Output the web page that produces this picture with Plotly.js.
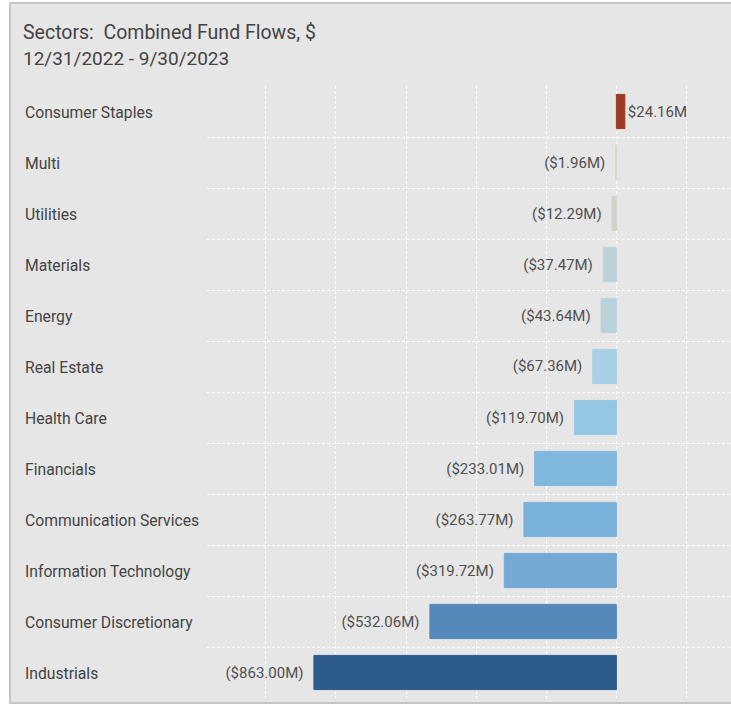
<!DOCTYPE html>
<html>
<head>
<meta charset="utf-8">
<script src="https://cdn.plot.ly/plotly-3.0.1.min.js"></script>
<style>
  html, body { margin: 0; padding: 0; background: #ffffff; overflow: hidden; }
  #frame { position: absolute; left: 9px; top: 2px; width: 720px; height: 698px;
           border-left: 2px solid #c6c6c6; border-top: 2px solid #c6c6c6; border-bottom: 2px solid #c6c6c6;
           background: #e6e6e6; }
  #chart { width: 720px; height: 698px; }
</style>
</head>
<body>
<div id="frame"><div id="chart"></div></div>
<script>
const categories = ["Consumer Staples", "Multi", "Utilities", "Materials", "Energy", "Real Estate",
  "Health Care", "Financials", "Communication Services", "Information Technology",
  "Consumer Discretionary", "Industrials"];
const flows = [24.16, -1.96, -12.29, -37.47, -43.64, -67.36, -119.70, -233.01, -263.77, -319.72, -532.06, -863.00];
const barColors = ["#9e3b24", "#d9d5c5", "#cfd3cc", "#bdd2d8", "#b9d3dd", "#a8cfe3", "#95c7e3",
  "#80b7dd", "#7ab1da", "#74a9d3", "#5489b9", "#2c5b8a"];
const gridVals = [-1000, -800, -600, -400, -200, 0, 200];
const titleText = "Sectors:  Combined Fund Flows, $";
const subtitleText = "12/31/2022 - 9/30/2023";

const fmt = v => v < 0 ? "($" + Math.abs(v).toFixed(2) + "M)\u00a0\u00a0" : "$" + v.toFixed(2) + "M";
const FONT = "Roboto, 'Open Sans', sans-serif";

const trace = {
  type: "bar", orientation: "h",
  x: flows, y: categories,
  marker: { color: barColors, line: { width: 1, color: barColors } },
  text: flows.map(fmt), textposition: "outside", cliponaxis: false,
  textfont: { family: FONT, size: 15, color: "#505050" },
  hoverinfo: "none"
};

const plotW = 524, plotH = 612;
const px2paperX = px => (px - 207) / plotW;
const px2paperY = py => (698 - py) / plotH;

const annotations = [
  { text: titleText, xref: "paper", yref: "paper", x: px2paperX(21), y: px2paperY(32),
    xanchor: "left", yanchor: "middle", showarrow: false, font: { family: FONT, size: 19.5, color: "#444444" } },
  { text: subtitleText, xref: "paper", yref: "paper", x: px2paperX(21), y: px2paperY(59),
    xanchor: "left", yanchor: "middle", showarrow: false, font: { family: FONT, size: 19, color: "#444444" } }
].concat(categories.map(c => ({
  text: c, xref: "paper", yref: "y", x: px2paperX(23), y: c, yshift: -1,
  xanchor: "left", yanchor: "middle", showarrow: false,
  font: { family: FONT, size: 15.7, color: "#444444" }
})));

const layout = {
  width: 720, height: 698,
  margin: { l: 196, r: 0, t: 82, b: 4 },
  paper_bgcolor: "rgba(0,0,0,0)", plot_bgcolor: "rgba(0,0,0,0)",
  showlegend: false,
  bargap: 0.33,
  xaxis: {
    range: [-1168, 327], tickvals: gridVals, showticklabels: false,
    showgrid: true, gridcolor: "#ffffff", gridwidth: 1, griddash: "3px,2px",
    zeroline: false, showline: false, fixedrange: true
  },
  yaxis: {
    type: "category", autorange: "reversed", tickson: "boundaries",
    showticklabels: false, ticks: "",
    showgrid: true, gridcolor: "#ffffff", gridwidth: 1, griddash: "3px,2px",
    zeroline: false, showline: false, fixedrange: true
  },
  annotations: annotations
};

Plotly.newPlot("chart", [trace], layout, { displayModeBar: false, staticPlot: true });
</script>
</body>
</html>
